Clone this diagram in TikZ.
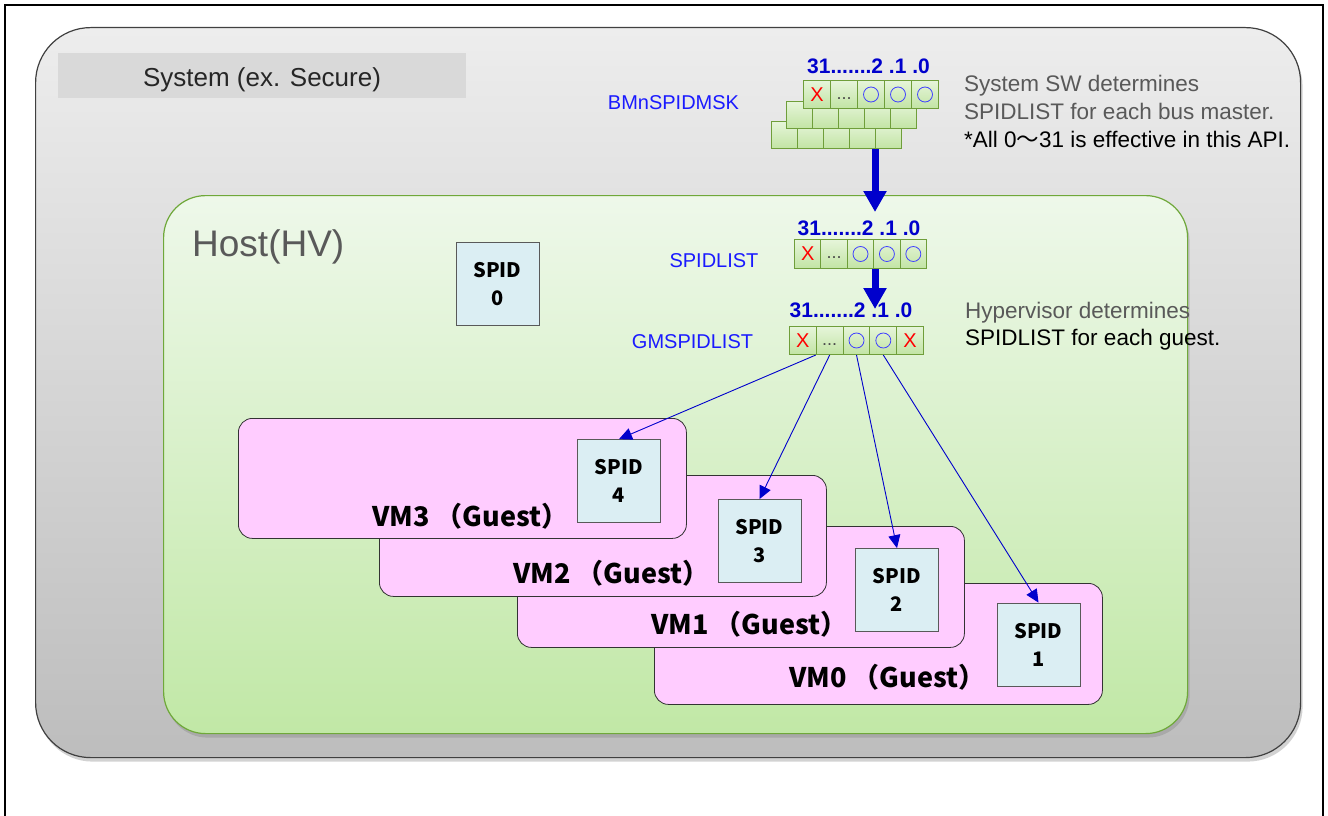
\documentclass[tikz,border=0pt]{standalone}
\usepackage{fontspec}
\setmainfont{Liberation Sans}
\newfontfamily\jp{Noto Sans CJK JP}
\usetikzlibrary{arrows.meta,shadows}
\definecolor{sysTop}{HTML}{EDEDED}
\definecolor{sysBot}{HTML}{BDBDBD}
\definecolor{sysLine}{HTML}{404040}
\definecolor{labGray}{HTML}{D9D9D9}
\definecolor{hostTop}{HTML}{EEF8EA}
\definecolor{hostBot}{HTML}{C1E8A6}
\definecolor{hostLine}{HTML}{6FA83A}
\definecolor{vmPink}{HTML}{FFCCFF}
\definecolor{spidFill}{HTML}{DBEEF3}
\definecolor{cellTop}{HTML}{E6F5DA}
\definecolor{cellBot}{HTML}{C2E4A4}
\definecolor{cellLine}{HTML}{6F9E3A}
\definecolor{txtGray}{HTML}{595959}
\definecolor{lblBlue}{HTML}{1A1AFF}
\definecolor{hdrBlue}{HTML}{0000CC}
\definecolor{arrBlue}{HTML}{0000CC}
\tikzset{
  sysbox/.style={draw=sysLine, line width=1.2pt, top color=sysTop, bottom color=sysBot, rounded corners=55pt,
    anchor=north west, inner sep=0pt, drop shadow={shadow xshift=2pt, shadow yshift=-4pt, opacity=0.35}},
  hostbox/.style={draw=hostLine, line width=1.2pt, top color=hostTop, bottom color=hostBot, rounded corners=42pt,
    anchor=north west, inner sep=0pt, drop shadow={shadow xshift=2pt, shadow yshift=-4pt, opacity=0.35}},
  vmbox/.style={draw=black!80, line width=0.8pt, fill=vmPink, rounded corners=14pt, anchor=north west, inner sep=0pt},
  vmlabel/.style={anchor=base west, font=\jp\bfseries\fontsize{27}{30}\selectfont, inner sep=0pt},
  spidbox/.style={draw=black!65, line width=0.8pt, fill=spidFill, minimum width=83pt, minimum height=83pt,
    align=center, font=\jp\bfseries\fontsize{20}{28}\selectfont, inner sep=0pt},
  cellf/.style={draw=cellLine, line width=1pt, top color=cellTop, bottom color=cellBot, minimum width=27pt,
    minimum height=28pt, anchor=north west, inner sep=0pt},
  cellb/.style={cellf, minimum width=26pt, minimum height=27pt},
  hdr/.style={anchor=base, font=\bfseries\fontsize{21}{24}\selectfont, text=hdrBlue, inner sep=0pt},
  reglabel/.style={anchor=base, font=\fontsize{20}{24}\selectfont, text=lblBlue, inner sep=0pt},
  note/.style={anchor=base west, font=\fontsize{22.5}{27}\selectfont, inner sep=0pt},
  bigarrow/.style={draw=arrBlue, line width=7pt, -{Triangle[width=22pt,length=21pt]}},
  thinarrow/.style={draw=arrBlue, line width=0.9pt, -{Triangle[width=12pt,length=13pt]}},
  xmark/.style={text=red, font=\fontsize{20}{24}\selectfont},
  dots/.style={text=black!70, font=\fontsize{18}{20}\selectfont, yshift=-4pt},
  ring/.style={draw=blue!75, line width=0.8pt}
}
\begin{document}
\begin{tikzpicture}[x=1pt,y=1pt]
\useasboundingbox (0,0) rectangle (1328,-816);
\fill[white] (0,0) rectangle (1328,-816);
\draw[line width=1.6pt] (5,-818) -- (5,-5) -- (1323,-5) -- (1323,-818);

% system box
\node[sysbox, minimum width=1265pt, minimum height=730pt] (sys) at (35,-27) {};
\node[fill=labGray, minimum width=408pt, minimum height=45pt, anchor=north west, inner sep=0pt] (syslabbox) at (58,-53) {};
\node[anchor=base, font=\fontsize{26}{30}\selectfont, text=black!85, inner sep=0pt] (syslab) at (262,-86) {System (ex. Secure)};

% host box
\node[hostbox, minimum width=1024pt, minimum height=538pt] (host) at (163,-195) {};
\node[anchor=base west, font=\fontsize{37}{40}\selectfont, text=txtGray, inner sep=0pt] (hostlab) at (192,-256) {Host(HV)};
\node[spidbox] (s0) at (497.5,-284) {SPID\\0};

% VM boxes (back to front)
\node[vmbox, minimum width=448pt, minimum height=121pt] (vm0) at (654,-583) {};
\node[vmlabel] (vm0l) at (789,-687) {VM0 （Guest）};
\node[spidbox] (s1) at (1038.5,-644.5) {SPID\\1};
\node[vmbox, minimum width=447pt, minimum height=121pt] (vm1) at (517,-526) {};
\node[vmlabel] (vm1l) at (651,-634) {VM1 （Guest）};
\node[spidbox] (s2) at (897,-590) {SPID\\2};
\node[vmbox, minimum width=447pt, minimum height=121pt] (vm2) at (379,-475) {};
\node[vmlabel] (vm2l) at (513,-583) {VM2 （Guest）};
\node[spidbox] (s3) at (759.5,-541) {SPID\\3};
\node[vmbox, minimum width=448pt, minimum height=120pt] (vm3) at (238,-418) {};
\node[vmlabel] (vm3l) at (372,-526) {VM3 （Guest）};
\node[spidbox] (s4) at (619,-481) {SPID\\4};

% big arrows (behind registers)
\coordinate (a1s) at (875,-143);
\coordinate (a1e) at (875,-212);
\coordinate (a2s) at (875,-268);
\coordinate (a2e) at (875,-309);
\draw[bigarrow] (a1s) -- (a1e);
\draw[bigarrow] (a2s) -- (a2e);

% BMnSPIDMSK stacked registers
\foreach \i in {1,...,5} {
  \node[cellb] (bm3-\i) at ({771+26*(\i-1)},-121) {};
}
\foreach \i in {1,...,5} {
  \node[cellb] (bm2-\i) at ({786+26*(\i-1)},-101) {};
}
\foreach \i in {1,...,5} {
  \node[cellf] (bm1-\i) at ({803+27*(\i-1)},-80) {};
}
\node[xmark] at (bm1-1.center) {X};
\node[dots] at (bm1-2.center) {...};
\foreach \i in {3,4,5} { \draw[ring] (bm1-\i.center) circle (7.5pt); }
\node[hdr] (bmh) at (868.5,-74) {31.......2 .1 .0};
\node[reglabel] (bml) at (673.5,-110) {BMnSPIDMSK};

% SPIDLIST
\foreach \i in {1,...,5} {
  \node[cellf, minimum height=29pt, minimum width=26.4pt] (sl-\i) at ({794+26.4*(\i-1)},-239) {};
}
\node[xmark] at (sl-1.center) {X};
\node[dots] at (sl-2.center) {...};
\foreach \i in {3,4,5} { \draw[ring] (sl-\i.center) circle (7.5pt); }
\node[hdr] (slh) at (859,-235) {31.......2 .1 .0};
\node[reglabel] (sll) at (714,-267) {SPIDLIST};

% GMSPIDLIST
\foreach \i in {1,...,5} {
  \node[cellf, minimum width=26.8pt] (gm-\i) at ({789+26.8*(\i-1)},-326) {};
}
\node[xmark] at (gm-1.center) {X};
\node[dots] at (gm-2.center) {...};
\foreach \i in {3,4} { \draw[ring] (gm-\i.center) circle (7.5pt); }
\node[xmark] at (gm-5.center) {X};
\node[hdr] (gmh) at (851,-317) {31.......2 .1 .0};
\node[reglabel] (gml) at (692.5,-348) {GMSPIDLIST};

% thin arrows
\draw[thinarrow] (gm-2.south west) -- (s4.north);
\draw[thinarrow] (gm-2.south) -- (s3.north);
\draw[thinarrow] (gm-3.south) -- (s2.north);
\draw[thinarrow] (gm-4.south) -- (s1.north);

% notes
\node[note, text=txtGray] (n1) at (964,-92) {System SW determines};
\node[note, text=txtGray] (n2) at (964,-119) {SPIDLIST for each bus master.};
\node[note, text=black] (n3) at (964,-147) {*All 0{\jp ～}31 is effective in this API.};
\node[note, text=txtGray] (n4) at (965,-318) {Hypervisor determines};
\node[note, text=black] (n5) at (965,-345) {SPIDLIST for each guest.};
\end{tikzpicture}
\end{document}
